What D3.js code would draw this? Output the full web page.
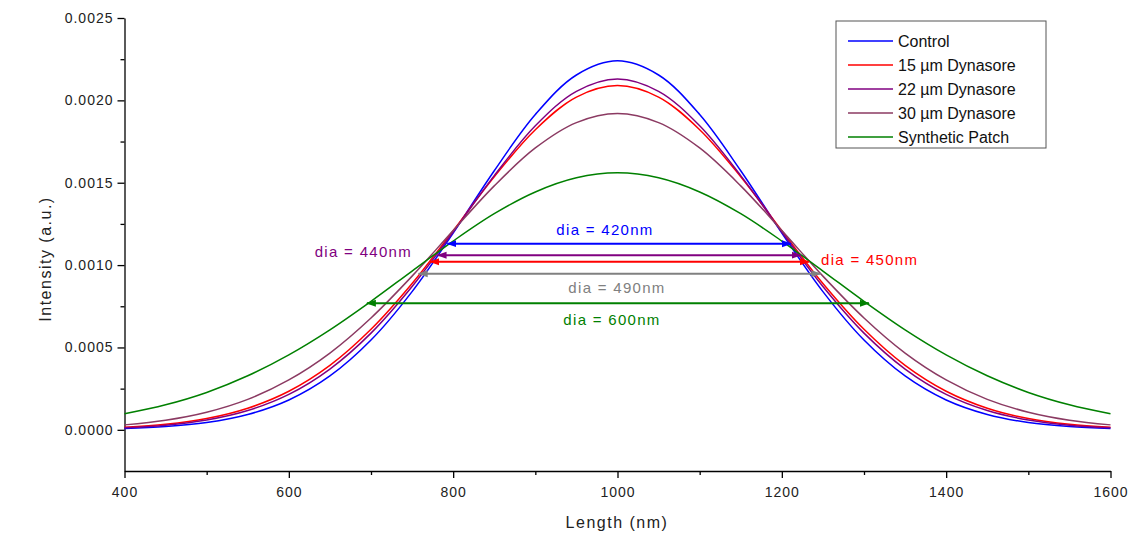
<!DOCTYPE html>
<html>
<head>
<meta charset="utf-8">
<script src="https://cdn.jsdelivr.net/npm/d3@7"></script>
<style>
body { margin: 0; background: #fff; }
svg { font-family: "Liberation Sans", Arial, sans-serif; }
.axis path, .axis line { stroke: #000; stroke-width: 1.3; }
.axis text { font-size: 14px; fill: #222; letter-spacing: 1px; }
</style>
</head>
<body>
<div id="vis"></div>
<script>
// lengths (nm), sampled every 50 nm
var lengths = [400, 450, 500, 550, 600, 650, 700, 750, 800, 850, 900, 950, 1000,
	1050, 1100, 1150, 1200, 1250, 1300, 1350, 1400, 1450, 1500, 1550, 1600];

var seriesNames = ["Control", "15 µm Dynasore", "22 µm Dynasore", "30 µm Dynasore", "Synthetic Patch"];
var seriesColors = ["#0000ff", "#ff0000", "#800080", "#8b3a62", "#008000"];

// intensities
var control = [0.0000078, 0.0000194, 0.0000441, 0.0000930, 0.000181, 0.000327, 0.000545, 0.000839, 0.001195,
	0.001573, 0.001914, 0.002154, 0.002240, 0.002154, 0.001914, 0.001573, 0.001195, 0.000839,
	0.000545, 0.000327, 0.000181, 0.0000930, 0.0000441, 0.0000194, 0.0000078];
var dyn15 = [0.0000151, 0.0000332, 0.0000682, 0.000131, 0.000234, 0.000391, 0.000610, 0.000888, 0.001209,
	0.001536, 0.001822, 0.002020, 0.002090, 0.002020, 0.001822, 0.001536, 0.001209, 0.000888,
	0.000610, 0.000391, 0.000234, 0.000131, 0.0000682, 0.0000332, 0.0000151];
var dyn22 = [0.0000123, 0.0000280, 0.0000594, 0.000117, 0.000215, 0.000369, 0.000587, 0.000870, 0.001201,
	0.001543, 0.001846, 0.002055, 0.002130, 0.002055, 0.001846, 0.001543, 0.001201, 0.000870,
	0.000587, 0.000369, 0.000215, 0.000117, 0.0000594, 0.0000280, 0.0000123];
var dyn30 = [0.0000300, 0.0000583, 0.000107, 0.000185, 0.000303, 0.000466, 0.000679, 0.000933, 0.001210,
	0.001481, 0.001711, 0.001865, 0.001920, 0.001865, 0.001711, 0.001481, 0.001210, 0.000933,
	0.000679, 0.000466, 0.000303, 0.000185, 0.000107, 0.0000583, 0.0000300];
var synthetic = [0.0000975, 0.000152, 0.000227, 0.000328, 0.000455, 0.000607, 0.000780, 0.000964, 0.001146,
	0.001312, 0.001444, 0.001530, 0.001560, 0.001530, 0.001444, 0.001312, 0.001146, 0.000964,
	0.000780, 0.000607, 0.000455, 0.000328, 0.000227, 0.000152, 0.0000975];
var seriesValues = [control, dyn15, dyn22, dyn30, synthetic];

// diameter markers: label, level, start, end (nm)
var diaLabels = ["dia = 420nm", "dia = 440nm", "dia = 450nm", "dia = 490nm", "dia = 600nm"];
var diaColors = ["#0000ff", "#800080", "#ff0000", "#808080", "#008000"];
var diaLevel = [0.00113, 0.00106, 0.00102, 0.000948, 0.000768];
var diaStart = [793, 781, 772, 758, 695];
var diaEnd = [1211, 1223, 1233, 1247, 1306];

var yTicks = [0, 0.0005, 0.0010, 0.0015, 0.0020, 0.0025];
var xTicks = [400, 600, 800, 1000, 1200, 1400, 1600];

var width = 1133;
var height = 535;

var x = d3.scaleLinear().domain([400, 1600]).range([124.5, 1110.5]);
var y = d3.scaleLinear().domain([-0.00025, 0.0025]).range([471, 18]);

var svg = d3.select('#vis').append('svg')
	.attr('width', width)
	.attr('height', height);

// minor ticks
svg.append("g")
	.attr("class", "axis")
	.attr("transform", "translate(" + x.range()[0] + ",0)")
	.call(d3.axisLeft(y).tickValues(d3.range(0.00025, 0.0025, 0.0005)).tickSize(4).tickFormat(""))
	.select(".domain").remove();
svg.append("g")
	.attr("class", "axis")
	.attr("transform", "translate(0," + y.range()[0] + ")")
	.call(d3.axisBottom(x).tickValues(d3.range(500, 1600, 200)).tickSize(4).tickFormat(""))
	.select(".domain").remove();

// major axes
svg.append("g")
	.attr("class", "axis")
	.attr("transform", "translate(" + x.range()[0] + ",0)")
	.call(d3.axisLeft(y).tickValues(yTicks).tickSize(7).tickSizeOuter(0).tickPadding(4).tickFormat(d3.format(".4f")));

svg.append("g")
	.attr("class", "axis")
	.attr("transform", "translate(0," + y.range()[0] + ")")
	.call(d3.axisBottom(x).tickValues(xTicks).tickSize(7).tickSizeOuter(0).tickPadding(9).tickFormat(d3.format("d")));

svg.append("text")
	.attr("transform", "translate(51,259) rotate(-90)")
	.attr("text-anchor", "middle")
	.style("font-size", "16px")
	.style("letter-spacing", "1.5px")
	.attr("fill", "#222")
	.text("Intensity (a.u.)");

svg.append("text")
	.attr("x", 617)
	.attr("y", 528)
	.attr("text-anchor", "middle")
	.style("font-size", "16px")
	.style("letter-spacing", "1.5px")
	.attr("fill", "#222")
	.text("Length (nm)");

// curves
var line = d3.line()
	.x(function (d, i) { return x(lengths[i]); })
	.y(function (d) { return y(d); })
	.curve(d3.curveCatmullRom.alpha(0.5));

svg.selectAll(".curve")
	.data(seriesValues)
	.enter().append("path")
	.attr("class", "curve")
	.attr("d", line)
	.attr("fill", "none")
	.attr("stroke", function (d, i) { return seriesColors[i]; })
	.attr("stroke-width", 1.5);

// arrow markers
var defs = svg.append("defs");
diaColors.forEach(function (c, i) {
	defs.append("marker")
		.attr("id", "arr" + i)
		.attr("viewBox", "0 0 10 10")
		.attr("refX", 9).attr("refY", 5)
		.attr("markerWidth", 5).attr("markerHeight", 5)
		.attr("markerUnits", "strokeWidth")
		.attr("orient", "auto-start-reverse")
		.append("path")
		.attr("d", "M0,1.5L10,5L0,8.5z")
		.attr("fill", c);
});

svg.selectAll(".dia")
	.data(diaLevel)
	.enter().append("line")
	.attr("class", "dia")
	.attr("x1", function (d, i) { return x(diaStart[i]); })
	.attr("x2", function (d, i) { return x(diaEnd[i]); })
	.attr("y1", function (d) { return y(d); })
	.attr("y2", function (d) { return y(d); })
	.attr("stroke", function (d, i) { return diaColors[i]; })
	.attr("stroke-width", 2)
	.attr("marker-start", function (d, i) { return "url(#arr" + i + ")"; })
	.attr("marker-end", function (d, i) { return "url(#arr" + i + ")"; });

// dia labels
var labelPos = [
	{ x: 605, y: 235, anchor: "middle" },
	{ x: 412, y: 257, anchor: "end" },
	{ x: 821, y: 265, anchor: "start" },
	{ x: 617, y: 293, anchor: "middle" },
	{ x: 612, y: 325, anchor: "middle" }
];
svg.selectAll(".dia-label")
	.data(diaLabels)
	.enter().append("text")
	.attr("class", "dia-label")
	.attr("x", function (d, i) { return labelPos[i].x; })
	.attr("y", function (d, i) { return labelPos[i].y; })
	.attr("text-anchor", function (d, i) { return labelPos[i].anchor; })
	.attr("fill", function (d, i) { return diaColors[i]; })
	.style("font-size", "15px")
	.style("letter-spacing", "1.3px")
	.text(function (d) { return d; });

// legend
var legend = svg.append("g").attr("transform", "translate(836,21)");
legend.append("rect")
	.attr("width", 210).attr("height", 127)
	.attr("fill", "#fff")
	.attr("stroke", "#555").attr("stroke-width", 1);

seriesNames.forEach(function (name, i) {
	var row = legend.append("g").attr("transform", "translate(0," + (20 + i * 24) + ")");
	row.append("line")
		.attr("x1", 12).attr("x2", 57)
		.attr("stroke", seriesColors[i]).attr("stroke-width", 1.5);
	row.append("text")
		.attr("x", 62).attr("y", 6)
		.style("font-size", "16px")
		.attr("fill", "#111")
		.text(name);
});
</script>
</body>
</html>
